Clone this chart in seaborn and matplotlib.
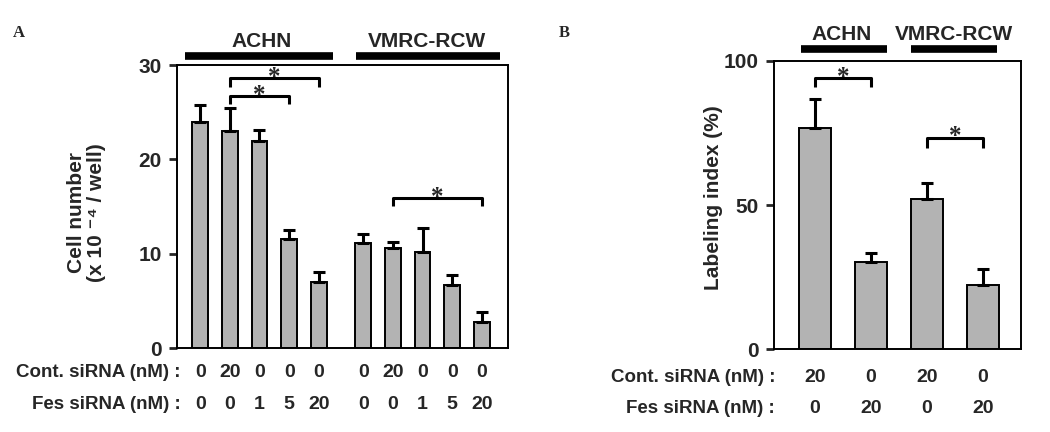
import numpy as np
import pandas as pd
import matplotlib
matplotlib.use('Agg')
import matplotlib.pyplot as plt
import matplotlib.transforms as mtransforms
import seaborn as sns

# Panel A: cell number (x 10^-4 / well)
a_cell_line = ['ACHN'] * 5 + ['VMRC-RCW'] * 5
a_cont = ['0', '20', '0', '0', '0', '0', '20', '0', '0', '0']
a_fes = ['0', '0', '1', '5', '20', '0', '0', '1', '5', '20']
a_mean = [24.0, 23.0, 22.0, 11.6, 7.0, 11.1, 10.6, 10.2, 6.7, 2.8]
a_err = [1.8, 2.4, 1.1, 0.9, 1.1, 1.0, 0.6, 2.5, 1.0, 1.0]

# Panel B: labeling index (%)
b_cell_line = ['ACHN', 'ACHN', 'VMRC-RCW', 'VMRC-RCW']
b_cont = ['20', '0', '20', '0']
b_fes = ['0', '20', '0', '20']
b_mean = [76.7, 30.2, 52.1, 22.2]
b_err = [10.1, 3.1, 5.5, 5.6]

sns.set_style('white')
plt.rcParams['font.family'] = ['Liberation Sans', 'DejaVu Sans']
plt.rcParams['font.weight'] = 'bold'

BAR_COLOR = '#b3b3b3'


def draw_panel(ax, cell_line, cont, fes, mean, err, ymax, yticks, gap):
    grp = pd.Series(cell_line)
    pos = np.arange(len(mean)) + gap * (grp != grp.iloc[0]).to_numpy()
    df = pd.DataFrame({'pos': pos, 'value': mean})
    sns.barplot(data=df, x='pos', y='value', native_scale=True, width=0.53 if gap else 0.57,
                color=BAR_COLOR, saturation=1, edgecolor='black', linewidth=1.4,
                errorbar=None, ax=ax)
    ax.errorbar(pos, mean, yerr=[np.zeros(len(err)), err], fmt='none', ecolor='black',
                elinewidth=2.2, capsize=4.5, capthick=2.2, zorder=3)
    ax.set_ylim(0, ymax)
    ax.set_yticks(yticks)
    ax.set_xticks([])
    ax.set_xlabel('')
    for s in ax.spines.values():
        s.set_linewidth(1.4)
        s.set_color('black')
    ax.tick_params(axis='y', direction='out', length=6, width=2, pad=5,
                   labelsize=15, left=True)
    for lab in ax.get_yticklabels():
        lab.set_fontweight('bold')
    return pos


fig = plt.figure(figsize=(10.5, 4.32), dpi=100)
ax_a = fig.add_axes([0.1686, 0.1944, 0.3152, 0.655])
ax_b = fig.add_axes([0.7371, 0.1921, 0.2352, 0.6667])

pos_a = draw_panel(ax_a, a_cell_line, a_cont, a_fes, a_mean, a_err, 30, [0, 10, 20, 30], 0.5)
ax_a.set_xlim(-0.78, 10.38)
pos_b = draw_panel(ax_b, b_cell_line, b_cont, b_fes, b_mean, b_err, 100, [0, 50, 100], 0)
ax_b.set_xlim(-0.73, 3.68)

ax_a.set_ylabel('Cell number\n(x 10 \u207b\u2074 / well)', fontsize=15, fontweight='bold',
                linespacing=1.05)
ax_a.yaxis.set_label_coords(-0.215, 0.48)
ax_b.set_ylabel('Labeling index (%)', fontsize=15, fontweight='bold')
ax_b.yaxis.set_label_coords(-0.205, 0.524)


def row_labels(ax, pos, cont, fes, y_cont, y_fes, x_lab):
    tr = mtransforms.blended_transform_factory(ax.transData, ax.transAxes)
    ax.text(x_lab, y_cont, 'Cont. siRNA (nM) :', transform=ax.transAxes, ha='right',
            va='center', fontsize=13.5, fontweight='bold')
    ax.text(x_lab, y_fes, 'Fes siRNA (nM) :', transform=ax.transAxes, ha='right',
            va='center', fontsize=13.5, fontweight='bold')
    for p, c, f in zip(pos, cont, fes):
        ax.text(p, y_cont, c, transform=tr, ha='center', va='center', fontsize=14,
                fontweight='bold')
        ax.text(p, y_fes, f, transform=tr, ha='center', va='center', fontsize=14,
                fontweight='bold')


def group_bars(ax, groups, y_bar, y_text):
    tr = mtransforms.blended_transform_factory(ax.transData, ax.transAxes)
    for name, x0, x1, xc in groups:
        ax.plot([x0, x1], [y_bar, y_bar], color='black', lw=5.5, transform=tr,
                clip_on=False, solid_capstyle='butt')
        ax.text(xc, y_text, name, transform=tr, ha='center', va='baseline',
                fontsize=15, fontweight='bold')


def bracket(ax, x0, x1, y, leg):
    ax.plot([x0, x0, x1, x1], [y - leg, y, y, y - leg], color='black', lw=2.2,
            clip_on=False, solid_capstyle='butt')
    ax.annotate('*', xy=((x0 + x1) / 2, y), xytext=(0, -4), textcoords='offset points',
                ha='center', va='baseline', fontsize=18, family='Liberation Serif',
                fontweight='bold', annotation_clip=False, zorder=4)


row_labels(ax_a, pos_a, a_cont, a_fes, -0.088, -0.201, 0.01)
row_labels(ax_b, pos_b, b_cont, b_fes, -0.10, -0.205, 0.005)

group_bars(ax_a, [('ACHN', -0.51, 4.47, 2.07), ('VMRC-RCW', 5.25, 10.1, 7.66)], 1.032, 1.064)
group_bars(ax_b, [('ACHN', -0.25, 1.29, 0.48), ('VMRC-RCW', 1.71, 3.25, 2.49)], 1.04, 1.073)

bracket(ax_a, pos_a[1], pos_a[4], 28.6, 0.9)
bracket(ax_a, pos_a[1], pos_a[3], 26.7, 0.8)
bracket(ax_a, pos_a[6], pos_a[9], 15.9, 0.8)
bracket(ax_b, pos_b[0], pos_b[1], 94.1, 3.1)
bracket(ax_b, pos_b[2], pos_b[3], 73.3, 3.5)

fig.text(0.012, 0.915, 'A', family='Liberation Serif', fontweight='bold', fontsize=12)
fig.text(0.532, 0.915, 'B', family='Liberation Serif', fontweight='bold', fontsize=12)

fig.savefig('out.png', dpi=100)
